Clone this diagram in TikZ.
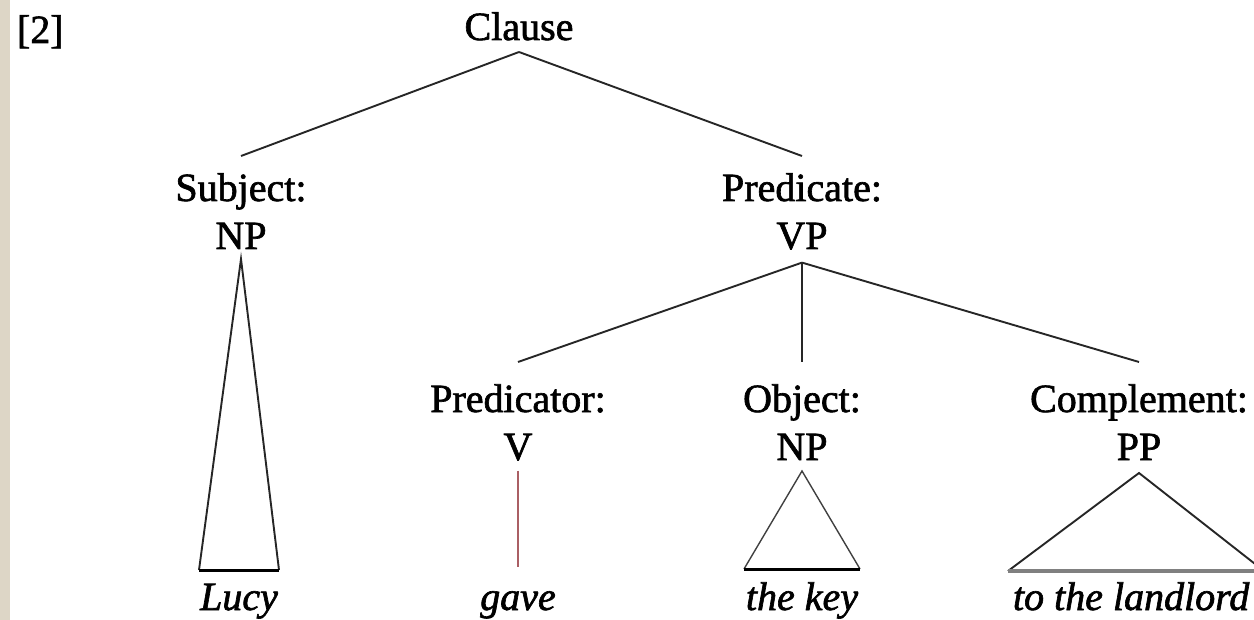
\documentclass[tikz,border=0pt]{standalone}
\usepackage{fontspec}
\setmainfont{Liberation Serif}[FakeBold=1.6]
\definecolor{stripcol}{RGB}{221,214,198}
\definecolor{vline}{RGB}{170,95,100}
\begin{document}
\begin{tikzpicture}[x=0.5pt,y=-0.5pt,
  every node/.style={inner sep=0pt, outer sep=0pt, font=\fontsize{20pt}{24pt}\selectfont},
  lab/.style={align=center, anchor=base},
  leaf/.style={anchor=base, font=\fontsize{20pt}{24pt}\selectfont\itshape},
  branch/.style={line width=0.95pt, draw=black!85},
  tri/.style={line width=0.95pt, draw=black!85, line join=miter},
  thintri/.style={line width=0.7pt, draw=black!75, line join=miter},
  basebar/.style={line width=1.5pt, draw=black},
  greybar/.style={line width=2pt, draw=black!50},
]
\useasboundingbox (0,0) rectangle (1254,620);
\clip (0,0) rectangle (1254,620);
\fill[stripcol] (0,0) rectangle (10,620);

\node[anchor=base west] (num) at (17,43) {[2]};
\node[lab] (clause) at (519,40) {Clause};
% multi-line nodes: base = baseline of last line
\node[lab] (subj) at (241,249) {Subject:\\NP};
\node[lab] (pred) at (802,249) {Predicate:\\VP};
\node[lab] (ptor) at (518,460) {Predicator:\\V};
\node[lab] (obj) at (802,460) {Object:\\NP};
\node[lab] (comp) at (1139,460) {Complement:\\PP};

\node[leaf] (lucy) at (239,610) {Lucy};
\node[leaf] (gave) at (518,610) {gave};
\node[leaf] (key) at (802,610) {the key};
\node[leaf, anchor=base west] (ttl) at (1013,610) {to the landlord};

% clause branches
\draw[branch] ([yshift=-6pt]clause.base) -- ([yshift=46.5pt]subj.base);
\draw[branch] ([yshift=-6pt]clause.base) -- ([yshift=46.5pt]pred.base);
% VP branches
\draw[branch] ([yshift=-6.5pt]pred.south) -- ([yshift=49pt]ptor.base);
\draw[branch] ([yshift=-6.5pt]pred.south) -- ([yshift=49pt]obj.base);
\draw[branch] ([yshift=-6.5pt]pred.south) -- ([yshift=49pt]comp.base);

% Subject NP triangle
\draw[tri] ([xshift=-20pt,yshift=20pt]lucy.base) -- ([yshift=-5pt]subj.south) -- ([xshift=20pt,yshift=20pt]lucy.base);
\draw[basebar] ([xshift=-20pt,yshift=20pt]lucy.base) -- ([xshift=20pt,yshift=20pt]lucy.base);

% V line
\draw[vline, line width=0.9pt] ([yshift=-5pt]ptor.south) -- ([yshift=21.5pt]gave.base);

% Object NP triangle
\draw[thintri] ([xshift=-29pt,yshift=20.5pt]key.base) -- ([yshift=-5.5pt]obj.south) -- ([xshift=29pt,yshift=20.5pt]key.base);
\draw[basebar] ([xshift=-29pt,yshift=20.5pt]key.base) -- ([xshift=29pt,yshift=20.5pt]key.base);

% Complement PP triangle
\draw[tri] ([xshift=-2.5pt,yshift=19.5pt]ttl.base west) -- ([yshift=-6.5pt]comp.south) -- ([xshift=125.5pt,yshift=19.5pt]ttl.base west);
\draw[greybar] ([xshift=-2.5pt,yshift=19.5pt]ttl.base west) -- ([xshift=125.5pt,yshift=19.5pt]ttl.base west);
\end{tikzpicture}
\end{document}
